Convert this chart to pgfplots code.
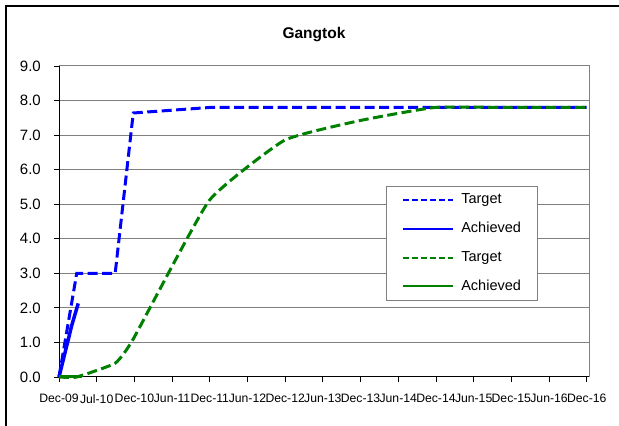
\documentclass[border=0pt]{standalone}
\usepackage{pgfplots}
\pgfplotsset{compat=1.18}
\usepackage{fontspec}
\setmainfont{Liberation Sans}
\definecolor{xlblue}{RGB}{0,0,255}
\definecolor{xlgreen}{RGB}{0,128,0}
\definecolor{xlgrid}{RGB}{128,128,128}
\begin{document}
\begin{tikzpicture}
\useasboundingbox (0bp,0bp) rectangle (619bp,426bp);
\draw[line width=2bp] (6bp,0bp) -- (6bp,420bp) -- (619bp,420bp);
\node[font=\fontsize{15.5bp}{18bp}\selectfont\bfseries, anchor=base] at (314bp,387bp) {Gangtok};
\begin{axis}[
  at={(59bp,49bp)}, anchor=south west,
  width=530bp, height=311bp, scale only axis,
  xmin=0, xmax=14.06, ymin=0, ymax=9,
  clip=false,
  axis lines=left,
  axis line style={-, black, line width=1bp},
  tick align=outside,
  major tick length=5bp,
  tick style={black, line width=0.8bp},
  xtick={0,1,...,14},
  xticklabels={Dec-09,Jul-10,Dec-10,Jun-11,Dec-11,Jun-12,Dec-12,Jun-13,Dec-13,Jun-14,Dec-14,Jun-15,Dec-15,Jun-16,Dec-16},
  ytick={0,1,...,9},
  yticklabel style={/pgf/number format/fixed, /pgf/number format/fixed zerofill, /pgf/number format/precision=1, /pgf/number format/assume math mode=true, font=\fontsize{15bp}{17bp}\selectfont, anchor=east, inner sep=0pt, xshift=-13bp},
  xticklabel style={font=\fontsize{12.2bp}{14bp}\selectfont, anchor=north, inner sep=0pt, yshift=-12bp},
  ymajorgrids,
  grid style={xlgrid, line width=1bp},
  legend style={at={(rel axis cs:0.617,0.614)}, anchor=north west, draw=xlgrid, line width=0.8bp, fill=white, inner xsep=16bp, inner ysep=6.5bp, row sep=14.2bp, column sep=7bp, font=\fontsize{14.5bp}{17bp}\selectfont, nodes={inner sep=0pt, text height=11bp, text depth=3.5bp}},
  legend cell align=left,
  legend image code/.code={\draw[#1] (0bp,0bp) -- (50bp,0bp);},
]
\draw[xlgrid, line width=1bp] (rel axis cs:0,1) -- (rel axis cs:1,1) -- (rel axis cs:1,0);
% Blue Target
\addplot[xlblue, line width=3bp, dash pattern=on 10bp off 4.5bp, forget plot] coordinates {
(0,0) (0.47,3.0) (1.49,3.0) (1.97,7.64) (4.0,7.8) (6,7.8) (8,7.8) (10,7.8) (12,7.8) (14,7.8)};
% Blue Achieved
\addplot[xlblue, line width=3.5bp, forget plot] coordinates {
(0,0) (0.17,0.75) (0.34,1.5) (0.51,2.13)};
% Green Target
\addplot[xlgreen, line width=3bp, dash pattern=on 10bp off 4.5bp, smooth, tension=0.25, forget plot] coordinates {
(0,0) (0.47,0.0) (1.49,0.4) (1.97,1.1) (3.98,5.1) (5.98,6.85) (7.98,7.42) (9.97,7.8) (12,7.8) (14,7.8)};
% Green Achieved
\addplot[xlgreen, line width=3bp, forget plot] coordinates {
(0,0) (0.3,0) (0.6,0)};
\addlegendimage{xlblue, line width=1.5bp, dash pattern=on 6bp off 3bp}
\addlegendentry{Target}
\addlegendimage{xlblue, line width=1.6bp}
\addlegendentry{Achieved}
\addlegendimage{xlgreen, line width=1.9bp, dash pattern=on 6bp off 3bp}
\addlegendentry{Target}
\addlegendimage{xlgreen, line width=1.6bp}
\addlegendentry{Achieved}
\end{axis}
\end{tikzpicture}
\end{document}
